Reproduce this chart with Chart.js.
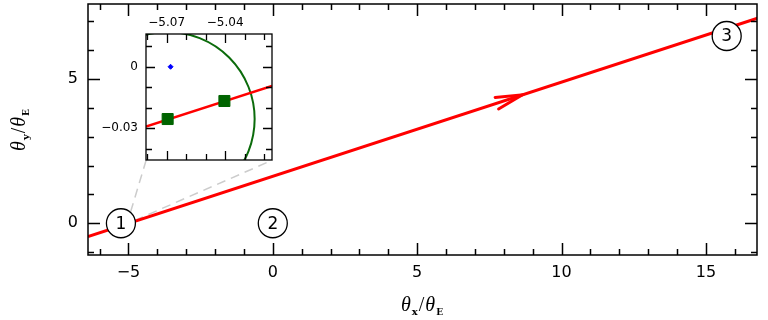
<!DOCTYPE html>
<html>
<head>
<meta charset="utf-8">
<script src="https://cdn.jsdelivr.net/npm/chart.js@4"></script>
<style>
  html, body { margin: 0; padding: 0; background: #fff; }
  #wrap { position: relative; width: 768px; height: 320px; }
  #main { position: absolute; left: 0; top: 0; }
  #inset { position: absolute; left: 86px; top: 4px; }
</style>
</head>
<body>
<div id="wrap">
  <canvas id="main" width="768" height="320"></canvas>
  <canvas id="inset" width="190" height="160"></canvas>
</div>
<script>
// main panel
const xRange = [-6.4, 16.77];
const yRange = [-1.1, 7.6];
const xTicks = [-5, 0, 5, 10, 15];
const yTicks = [0, 5];
const trackX = [-6.4, 16.8];
const trackY = [-0.46, 7.11];
const arrowX = [7.70, 8.64, 7.82];
const arrowY = [4.36, 4.45, 3.96];
const zoomLinkX = [-4.385, -5.05, -0.01];
const zoomLinkY = [2.19, -0.02, 2.19];
const markerNames = ['1', '2', '3'];
const markerX = [-5.26, 0, 15.72];
const markerY = [0, 0, 6.49];

// inset panel
const insetXRange = [-5.0806, -5.016];
const insetYRange = [-0.0455, 0.016];
const insetXTicks = [-5.07, -5.04];
const insetYTicks = [0, -0.03];
const insetTrackX = [-5.0806, -5.016];
const insetTrackY = [-0.0292, -0.0094];
const imageX = [-5.0695, -5.0404];
const imageY = [-0.0255, -0.0167];
const lensX = [-5.068];
const lensY = [0];
const ringCenter = [-5.0695, -0.0255];
const ringRadius = 0.0446;

function pts(xs, ys) {
  return xs.map((x, i) => ({ x: x, y: ys[i] }));
}
function fmt(v) {
  return String(v).replace('-', '\u2212');
}
function noPad(s) {
  s.paddingTop = 0; s.paddingBottom = 0; s.paddingLeft = 0; s.paddingRight = 0;
}

// box frame + inward ticks on all four sides
function frameTicks(majLen, minLen, xStep, yStep, lw) {
  return {
    id: 'frameTicks',
    afterDatasetsDraw(chart) {
      const { ctx, chartArea: a, scales: { x, y } } = chart;
      ctx.save();
      ctx.strokeStyle = '#000';
      ctx.lineWidth = lw;
      ctx.strokeRect(a.left, a.top, a.right - a.left, a.bottom - a.top);
      ctx.beginPath();
      const mx = x.ticks.map(t => t.value);
      const my = y.ticks.map(t => t.value);
      for (let k = Math.ceil(x.min / xStep - 1e-6); k * xStep <= x.max + 1e-9; k++) {
        const v = k * xStep;
        const L = mx.some(m => Math.abs(m - v) < xStep * 1e-3) ? majLen : minLen;
        const px = Math.round(x.getPixelForValue(v)) + 0.5;
        ctx.moveTo(px, a.bottom); ctx.lineTo(px, a.bottom - L);
        ctx.moveTo(px, a.top); ctx.lineTo(px, a.top + L);
      }
      for (let k = Math.ceil(y.min / yStep - 1e-6); k * yStep <= y.max + 1e-9; k++) {
        const v = k * yStep;
        const L = my.some(m => Math.abs(m - v) < yStep * 1e-3) ? majLen : minLen;
        const py = Math.round(y.getPixelForValue(v)) + 0.5;
        ctx.moveTo(a.left, py); ctx.lineTo(a.left + L, py);
        ctx.moveTo(a.right, py); ctx.lineTo(a.right - L, py);
      }
      ctx.stroke();
      ctx.restore();
    }
  };
}

function drawRatio(ctx, cx, base, sub) {
  const parts = [
    { t: '\u03b8', f: 'italic 20px "Liberation Serif"', dy: 0 },
    { t: sub, f: 'bold 10px "DejaVu Serif"', dy: 4 },
    { t: '/', f: '20px "Liberation Serif"', dy: 0 },
    { t: '\u03b8', f: 'italic 20px "Liberation Serif"', dy: 0 },
    { t: 'E', f: 'bold 9px "DejaVu Serif"', dy: 4 }
  ];
  let w = 0;
  parts.forEach(p => { ctx.font = p.f; p.w = ctx.measureText(p.t).width + 1; w += p.w; });
  let x = cx - w / 2;
  ctx.fillStyle = '#000';
  ctx.textBaseline = 'alphabetic';
  ctx.textAlign = 'left';
  parts.forEach(p => { ctx.font = p.f; ctx.fillText(p.t, x, base + p.dy); x += p.w; });
}

const mainDecor = {
  id: 'mainDecor',
  afterDatasetsDraw(chart) {
    const { ctx, scales: { x, y } } = chart;
    ctx.save();
    ctx.fillStyle = '#000';
    ctx.font = '17px "DejaVu Sans"';
    ctx.textAlign = 'center';
    ctx.textBaseline = 'middle';
    markerNames.forEach((n, i) => {
      ctx.fillText(n, x.getPixelForValue(markerX[i]), y.getPixelForValue(markerY[i]) + 1);
    });
    ctx.restore();
  },
  afterDraw(chart) {
    const ctx = chart.ctx;
    const a = chart.chartArea;
    ctx.save();
    drawRatio(ctx, (a.left + a.right) / 2, 311, 'x');
    ctx.translate(25, (a.top + a.bottom) / 2);
    ctx.rotate(-Math.PI / 2);
    drawRatio(ctx, 0, 0, 'y');
    ctx.restore();
  }
};

const insetDecor = {
  id: 'insetDecor',
  beforeDatasetsDraw(chart) {
    const { ctx, chartArea: a, scales: { x, y } } = chart;
    ctx.save();
    ctx.fillStyle = '#fff';
    ctx.fillRect(a.left, a.top, a.right - a.left, a.bottom - a.top);
    ctx.beginPath();
    ctx.rect(a.left, a.top, a.right - a.left, a.bottom - a.top);
    ctx.clip();
    const cx = x.getPixelForValue(ringCenter[0]);
    const cy = y.getPixelForValue(ringCenter[1]);
    const r = x.getPixelForValue(ringCenter[0] + ringRadius) - cx;
    ctx.beginPath();
    ctx.arc(cx, cy, r, 0, Math.PI * 2);
    ctx.strokeStyle = '#0b6b0b';
    ctx.lineWidth = 2;
    ctx.stroke();
    ctx.restore();
  }
};

const hiddenGrid = { display: false, drawTicks: false };

new Chart(document.getElementById('main'), {
  type: 'scatter',
  data: {
    datasets: [
      {
        data: pts(markerX, markerY),
        pointRadius: 14.5,
        pointBackgroundColor: '#fff',
        pointBorderColor: '#000',
        pointBorderWidth: 1.3,
        order: 0
      },
      {
        data: pts(trackX, trackY),
        showLine: true,
        borderColor: '#ff0000',
        borderWidth: 3,
        pointRadius: 0,
        order: 1
      },
      {
        data: pts(arrowX, arrowY),
        showLine: true,
        borderColor: '#ff0000',
        borderWidth: 3,
        borderCapStyle: 'round',
        borderJoinStyle: 'miter',
        pointRadius: 0,
        order: 1
      },
      {
        data: pts(zoomLinkX, zoomLinkY),
        showLine: true,
        borderColor: '#cccccc',
        borderWidth: 1.5,
        borderDash: [9, 6],
        pointRadius: 0,
        order: 2
      }
    ]
  },
  options: {
    responsive: false,
    animation: false,
    events: [],
    layout: { autoPadding: false, padding: { top: 4, right: 11, left: 0, bottom: 0 } },
    plugins: { legend: { display: false }, tooltip: { enabled: false } },
    scales: {
      x: {
        type: 'linear',
        min: xRange[0],
        max: xRange[1],
        grid: hiddenGrid,
        border: { display: false },
        afterBuildTicks: s => { s.ticks = xTicks.map(v => ({ value: v })); },
        afterFit: s => { s.height = 65; noPad(s); },
        ticks: {
          color: '#000',
          padding: 8,
          maxRotation: 0,
          font: { family: 'DejaVu Sans', size: 16 },
          callback: v => fmt(v)
        }
      },
      y: {
        type: 'linear',
        min: yRange[0],
        max: yRange[1],
        grid: hiddenGrid,
        border: { display: false },
        afterBuildTicks: s => { s.ticks = yTicks.map(v => ({ value: v })); },
        afterFit: s => { s.width = 88; noPad(s); },
        ticks: {
          color: '#000',
          padding: 10,
          font: { family: 'DejaVu Sans', size: 16 },
          callback: v => fmt(v)
        }
      }
    }
  },
  plugins: [frameTicks(12, 6, 1, 1, 1.5), mainDecor]
});

new Chart(document.getElementById('inset'), {
  type: 'scatter',
  data: {
    datasets: [
      {
        data: pts(imageX, imageY),
        pointStyle: 'rect',
        pointRadius: 7.8,
        pointBackgroundColor: '#006400',
        pointBorderColor: '#006400',
        order: 0
      },
      {
        data: pts(lensX, lensY),
        pointStyle: 'rectRot',
        pointRadius: 2.5,
        pointBackgroundColor: '#0000ff',
        pointBorderColor: '#0000ff',
        order: 0
      },
      {
        data: pts(insetTrackX, insetTrackY),
        showLine: true,
        borderColor: '#ff0000',
        borderWidth: 2.5,
        pointRadius: 0,
        order: 1
      }
    ]
  },
  options: {
    responsive: false,
    animation: false,
    events: [],
    layout: { autoPadding: false, padding: { top: 0, right: 4, left: 0, bottom: 4 } },
    plugins: { legend: { display: false }, tooltip: { enabled: false } },
    scales: {
      x: {
        type: 'linear',
        position: 'top',
        min: insetXRange[0],
        max: insetXRange[1],
        grid: hiddenGrid,
        border: { display: false },
        afterBuildTicks: s => { s.ticks = insetXTicks.map(v => ({ value: v })); },
        afterFit: s => { s.height = 30; noPad(s); },
        ticks: {
          color: '#000',
          padding: 4,
          maxRotation: 0,
          font: { family: 'DejaVu Sans', size: 12 },
          callback: v => fmt(v)
        }
      },
      y: {
        type: 'linear',
        min: insetYRange[0],
        max: insetYRange[1],
        grid: hiddenGrid,
        border: { display: false },
        afterBuildTicks: s => { s.ticks = insetYTicks.map(v => ({ value: v })); },
        afterFit: s => { s.width = 60; noPad(s); },
        ticks: {
          color: '#000',
          padding: 8,
          font: { family: 'DejaVu Sans', size: 12 },
          callback: v => fmt(v)
        }
      }
    }
  },
  plugins: [frameTicks(9, 6, 0.01, 0.01, 1.3), insetDecor]
});
</script>
</body>
</html>
